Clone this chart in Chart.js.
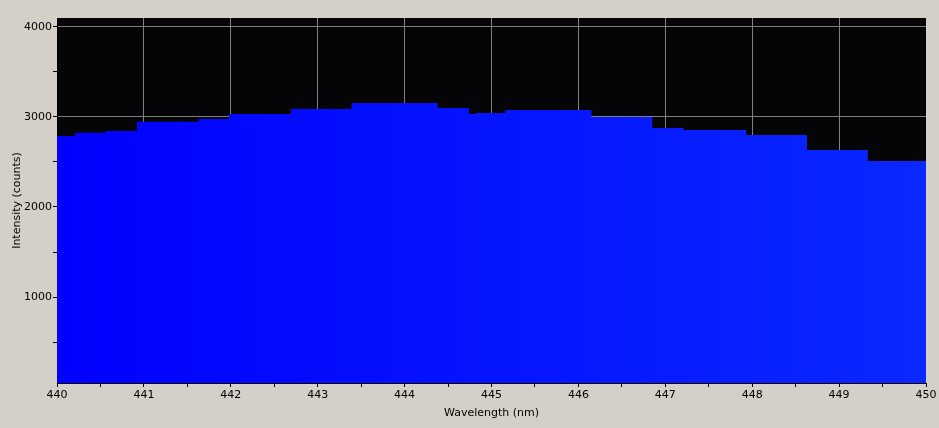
<!DOCTYPE html>
<html lang="en">
<head>
  <meta charset="UTF-8" />
  <title>Spectrum - Intensity vs Wavelength</title>
  <script src="https://cdn.jsdelivr.net/npm/chart.js"></script>
  <style>
    html, body {
      margin: 0;
      padding: 0;
      background: #d4d0c8;
    }
    canvas { display: block; }
  </style>
</head>
<body>
  <canvas id="spectrum" width="939" height="428"></canvas>
  <script>
    // step start wavelengths (nm) and the counts held until the next step
    const wavelengths = [440, 440.21, 440.56, 440.92, 441.63, 441.98, 442.69, 443.39, 444.38, 444.74,
                         444.81, 445.16, 446.15, 446.85, 447.21, 447.93, 448.63, 449.33, 450];
    const counts = [2788, 2822, 2844, 2944, 2977, 3032, 3088, 3154, 3099, 3032,
                    3043, 3076, 2999, 2877, 2855, 2799, 2633, 2511, 2511];

    const xTicks = [440, 440.5, 441, 441.5, 442, 442.5, 443, 443.5, 444, 444.5, 445,
                    445.5, 446, 446.5, 447, 447.5, 448, 448.5, 449, 449.5, 450];
    const yTicks = [500, 1000, 1500, 2000, 2500, 3000, 3500, 4000];

    const tickFont = { family: 'DejaVu Sans', size: 11 };

    // black plot background
    const plotBg = {
      id: 'plotBg',
      beforeDraw(chart) {
        const { ctx, chartArea: a } = chart;
        ctx.save();
        ctx.fillStyle = '#050508';
        ctx.fillRect(a.left, a.top, a.right - a.left, a.bottom - a.top);
        ctx.restore();
      }
    };

    function blueFill(context) {
      const a = context.chart.chartArea;
      if (!a) return '#0000ff';
      const g = context.chart.ctx.createLinearGradient(a.left, 0, a.right, 0);
      g.addColorStop(0, 'rgb(0,0,255)');
      g.addColorStop(1, 'rgb(10,40,255)');
      return g;
    }

    const isMajor = v => Math.abs(v - Math.round(v)) < 1e-6;

    new Chart(document.getElementById('spectrum'), {
      type: 'line',
      data: {
        datasets: [{
          data: wavelengths.map((w, i) => ({ x: w, y: counts[i] })),
          stepped: 'before',
          fill: 'start',
          backgroundColor: blueFill,
          borderColor: 'transparent',
          borderWidth: 0,
          pointRadius: 0
        }]
      },
      options: {
        responsive: false,
        animation: false,
        devicePixelRatio: 1,
        layout: { padding: { top: 18, right: 13, left: 0, bottom: 0 } },
        plugins: { legend: { display: false }, tooltip: { enabled: false } },
        scales: {
          x: {
            type: 'linear',
            min: 440,
            max: 450,
            z: 1,
            afterFit(scale) { scale.height = 45; },
            afterBuildTicks(scale) { scale.ticks = xTicks.map(v => ({ value: v })); },
            border: { display: true, color: '#000', width: 1 },
            grid: {
              color: c => (isMajor(c.tick.value) && c.tick.value !== 450 ? '#808080' : 'transparent'),
              tickColor: '#000',
              tickLength: 4,
              lineWidth: 1
            },
            ticks: {
              autoSkip: false,
              maxRotation: 0,
              padding: 2,
              color: '#000',
              font: tickFont,
              callback: v => (isMajor(v) ? String(Math.round(v)) : '')
            },
            title: {
              display: true,
              text: 'Wavelength (nm)',
              color: '#000',
              font: tickFont,
              padding: { top: 0, bottom: 8 }
            }
          },
          y: {
            min: 48,
            max: 4096,
            z: 1,
            afterFit(scale) { scale.width = 57; },
            afterBuildTicks(scale) { scale.ticks = yTicks.map(v => ({ value: v })); },
            border: { display: true, color: '#000', width: 1 },
            grid: {
              color: c => (c.tick.value % 1000 === 0 ? '#808080' : 'transparent'),
              tickColor: '#000',
              tickLength: 4,
              lineWidth: 1
            },
            ticks: {
              padding: 1,
              color: '#000',
              font: tickFont,
              callback: v => (v % 1000 === 0 ? String(v) : '')
            },
            title: {
              display: true,
              text: 'Intensity (counts)',
              color: '#000',
              font: tickFont,
              padding: { top: 11, bottom: 0 }
            }
          }
        }
      },
      plugins: [plotBg]
    });
  </script>
</body>
</html>
